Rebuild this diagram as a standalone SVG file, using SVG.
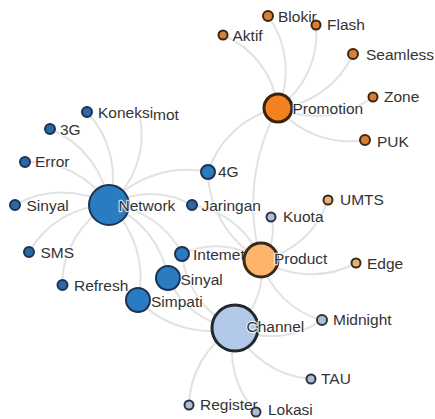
<svg xmlns="http://www.w3.org/2000/svg" width="435" height="419" viewBox="0 0 435 419">
<style>
.lk{fill:none;stroke:#e2e2e2;stroke-width:2}
text{font-family:"Liberation Sans",Arial,sans-serif;font-size:15.5px;fill:#333;stroke:#fff;stroke-width:2.5;stroke-opacity:.75;paint-order:stroke;stroke-linejoin:round}
.nb{fill:#2a7bc0;stroke:#1a3352;stroke-width:2}
.ns{fill:#2c68a3;stroke:#1a3352;stroke-width:2}
.po{fill:#d48038;stroke:#3f2410;stroke-width:2}
.ph{fill:#f4811f;stroke:#3a2208;stroke-width:3}
.pd{fill:#fdb56b;stroke:#3a2a1a;stroke-width:3}
.pl{fill:#e6b079;stroke:#3d2a18;stroke-width:2}
.ch{fill:#b3c9ea;stroke:#23282f;stroke-width:3}
.cl{fill:#b0bdd6;stroke:#2e3440;stroke-width:2}
</style>
<rect width="435" height="419" fill="#fff"/>
<g id="connectors">
<path class="lk" d="M87 112 A96 96 0 0 1 109 205"/>
<path class="lk" d="M140 117 A92 92 0 0 1 109 205"/>
<path class="lk" d="M50 129 A96 96 0 0 1 109 205"/>
<path class="lk" d="M25 162 A94 94 0 0 1 109 205"/>
<path class="lk" d="M15 205 A94 94 0 0 1 109 205"/>
<path class="lk" d="M29 252 A93 93 0 0 1 109 205"/>
<path class="lk" d="M62 285 A93 93 0 0 1 109 205"/>
<path class="lk" d="M138 300 A99 99 0 0 0 109 205"/>
<path class="lk" d="M168 278 A94 94 0 0 0 109 205"/>
<path class="lk" d="M182 254 A88 88 0 0 0 109 205"/>
<path class="lk" d="M192 205 A83 83 0 0 0 109 205"/>
<path class="lk" d="M208 172 A104 104 0 0 0 109 205"/>
<path class="lk" d="M223 35 A91 91 0 0 1 278 108"/>
<path class="lk" d="M268 16 A93 93 0 0 1 278 108"/>
<path class="lk" d="M316 25 A91 91 0 0 1 278 108"/>
<path class="lk" d="M353 54 A92 92 0 0 1 278 108"/>
<path class="lk" d="M373 97 A96 96 0 0 1 278 108"/>
<path class="lk" d="M365 140 A93 93 0 0 1 278 108"/>
<path class="lk" d="M208 172 A95 95 0 0 1 278 108"/>
<path class="lk" d="M278 108 A200 200 0 0 0 261 260"/>
<path class="lk" d="M271 217 A44 44 0 0 1 261 260"/>
<path class="lk" d="M328 200 A90 90 0 0 1 261 260"/>
<path class="lk" d="M356 263 A95 95 0 0 1 261 260"/>
<path class="lk" d="M322 320 A86 86 0 0 1 261 260"/>
<path class="lk" d="M192 205 A88 88 0 0 1 261 260"/>
<path class="lk" d="M208 172 A103 103 0 0 0 261 260"/>
<path class="lk" d="M182 254 A79 79 0 0 1 261 260"/>
<path class="lk" d="M235 328 A73 73 0 0 0 261 260"/>
<path class="lk" d="M322 320 A87 87 0 0 1 235 328"/>
<path class="lk" d="M311 379 A92 92 0 0 1 235 328"/>
<path class="lk" d="M189 406 A91 91 0 0 1 235 328"/>
<path class="lk" d="M256 412 A89 89 0 0 1 235 328"/>
<path class="lk" d="M138 300 A101 101 0 0 0 235 328"/>
<path class="lk" d="M168 278 A84 84 0 0 0 235 328"/>
<path class="lk" d="M182 254 A91 91 0 0 0 235 328"/>
</g>
<g id="n-aktif"><circle class="po" cx="223" cy="35" r="4.5"/><text x="232.5" y="40.5">Aktif</text></g>
<g id="n-blokir"><circle class="po" cx="268" cy="16" r="5"/><text x="278" y="21.5">Blokir</text></g>
<g id="n-flash"><circle class="po" cx="316" cy="25" r="4.5"/><text x="327" y="29.5">Flash</text></g>
<g id="n-seamless"><circle class="po" cx="353" cy="54" r="5"/><text x="366" y="60">Seamless</text></g>
<g id="n-zone"><circle class="po" cx="373" cy="97" r="4.5"/><text x="384" y="101.5">Zone</text></g>
<g id="n-puk"><circle class="po" cx="365" cy="140" r="5"/><text x="377" y="146.5">PUK</text></g>
<g id="n-koneksi"><circle class="ns" cx="87" cy="112" r="5"/><text x="98" y="117.5">Koneksi</text><text x="153" y="119.5">mot</text></g>
<g id="n-3g"><circle class="ns" cx="50" cy="129" r="5"/><text x="60" y="134.5">3G</text></g>
<g id="n-error"><circle class="ns" cx="25" cy="162" r="5"/><text x="35" y="167">Error</text></g>
<g id="n-sinyal1"><circle class="ns" cx="15" cy="205" r="5"/><text x="26.5" y="211">Sinyal</text></g>
<g id="n-sms"><circle class="ns" cx="29" cy="252" r="5"/><text x="40.5" y="257.5">SMS</text></g>
<g id="n-refresh"><circle class="ns" cx="62.5" cy="285" r="5"/><text x="74" y="291">Refresh</text></g>
<g id="n-4g"><circle class="nb" cx="208" cy="172" r="7"/><text x="218" y="177">4G</text></g>
<g id="n-jaringan"><circle class="ns" cx="192" cy="205" r="5"/><text x="201.5" y="211">Jaringan</text></g>
<g id="n-kuota"><circle class="cl" cx="271" cy="217" r="4.5"/><text x="283" y="222">Kuota</text></g>
<g id="n-umts"><circle class="pl" cx="328" cy="200" r="4.5"/><text x="340" y="205">UMTS</text></g>
<g id="n-edge"><circle class="pl" cx="356" cy="263" r="4.5"/><text x="367" y="268.5">Edge</text></g>
<g id="n-midnight"><circle class="cl" cx="322" cy="320" r="5"/><text x="333" y="325">Midnight</text></g>
<g id="n-tau"><circle class="cl" cx="311" cy="379" r="4.5"/><text x="321" y="384">TAU</text></g>
<g id="n-register"><circle class="cl" cx="189" cy="405" r="4.5"/><text x="200" y="410">Register</text></g>
<g id="n-lokasi"><circle class="cl" cx="256" cy="412" r="4.5"/><text x="268" y="415">Lokasi</text></g>
<g id="n-internet"><circle class="nb" cx="182" cy="254" r="7"/><text x="193" y="260">Intemet</text></g>
<g id="n-network"><circle class="nb" cx="109" cy="205" r="20"/><text x="118.5" y="211">Network</text></g>
<g id="n-promotion"><circle class="ph" cx="278" cy="108" r="14"/><text x="292.5" y="113.5">Promotion</text></g>
<g id="n-product"><circle class="pd" cx="261" cy="260" r="17"/><text x="274" y="263.5">Product</text></g>
<g id="n-channel"><circle class="ch" cx="235" cy="328" r="23"/><text x="246.5" y="332">Channel</text></g>
<g id="n-sinyal2"><circle class="nb" cx="168" cy="278" r="12"/><text x="180.5" y="284.5">Sinyal</text></g>
<g id="n-simpati"><circle class="nb" cx="138" cy="300" r="12"/><text x="151" y="306.5">Simpati</text></g>
</svg>
